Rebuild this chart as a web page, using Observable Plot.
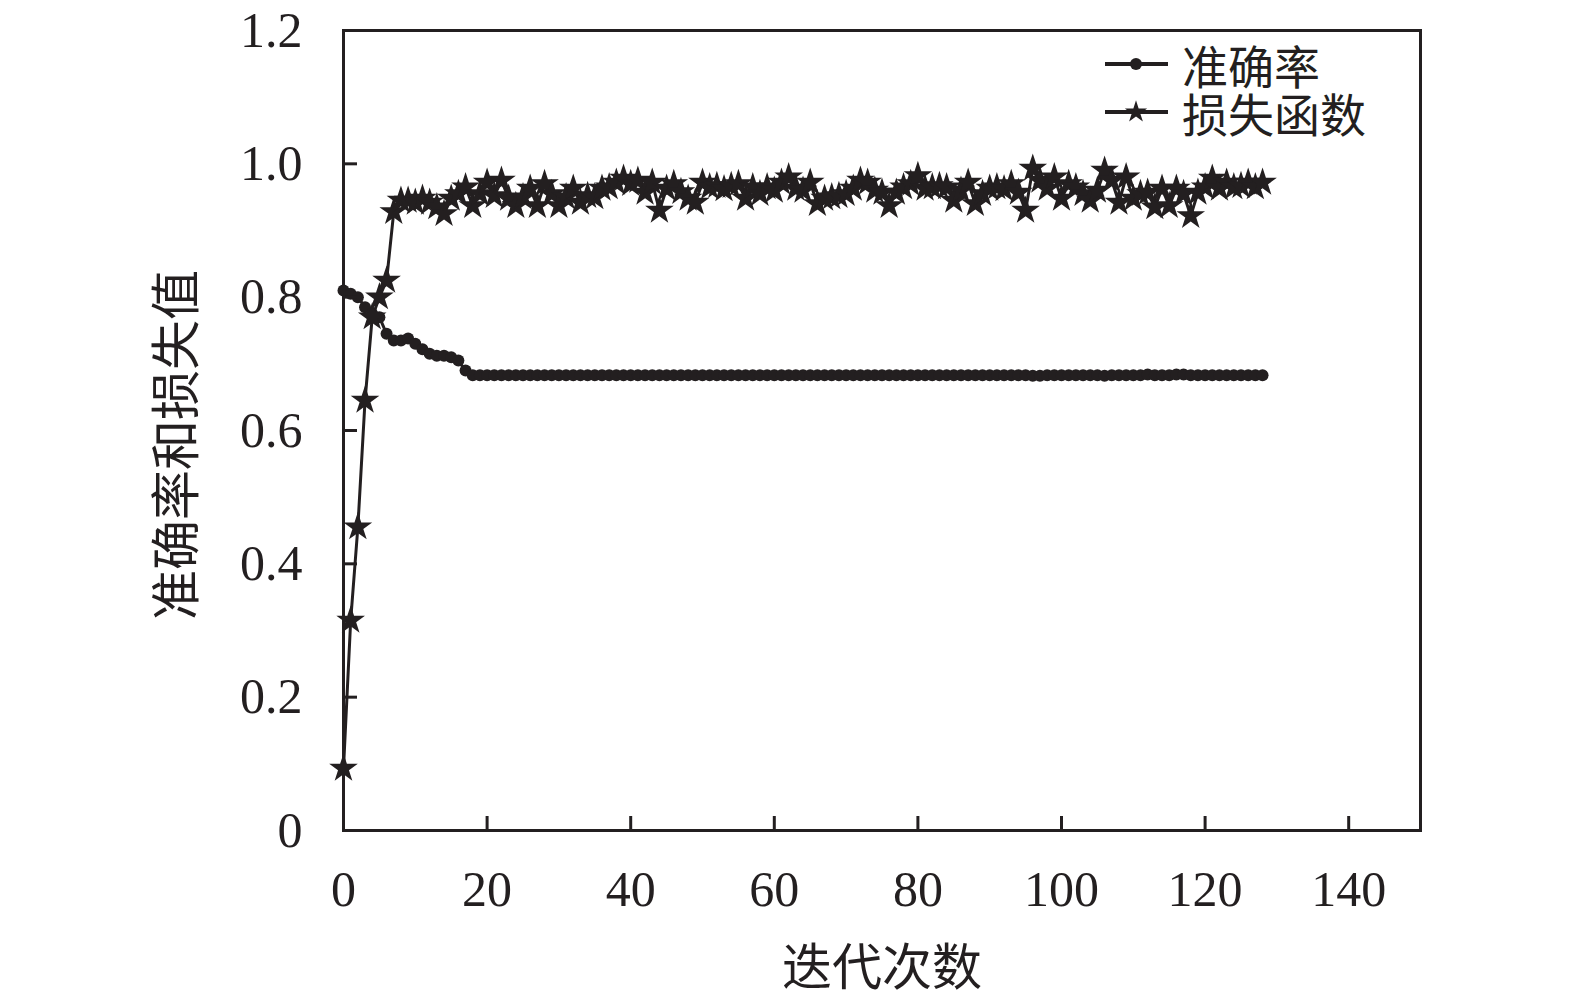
<!DOCTYPE html>
<html><head><meta charset="utf-8">
<script src="https://cdn.jsdelivr.net/npm/d3@7"></script>
<script src="https://cdn.jsdelivr.net/npm/@observablehq/plot@0.6"></script>
<style>
html,body{margin:0;padding:0;background:#fff;overflow:hidden;}
#wrap{position:relative;width:1575px;height:1000px;overflow:hidden;}
#wrap > svg{max-width:none !important;display:block;}
.lbl{position:absolute;font-family:"Noto Sans CJK SC",sans-serif;font-size:50px;color:#231f20;white-space:nowrap;line-height:1;}
.leg{font-size:46px;line-height:48px;white-space:pre;}
</style></head><body><div id="wrap"></div>
<script>
const ink = "#231f20";
const xLabel = "迭代次数";
const yLabel = "准确率和损失值";
const seriesNames = ["准确率", "损失函数"];
const xTicks = [0, 20, 40, 60, 80, 100, 120, 140];
const yTicks = [0, 0.2, 0.4, 0.6, 0.8, 1.0, 1.2];
const yTickLabels = ["0", "0.2", "0.4", "0.6", "0.8", "1.0", "1.2"];

// 准确率 (circle markers), iterations 0..128
const accuracy = [
  0.810, 0.805, 0.800, 0.785, 0.775, 0.770, 0.745, 0.735, 0.735, 0.738,
  0.730, 0.722, 0.715, 0.712, 0.712, 0.710, 0.705, 0.690, 0.683, 0.683,
  0.683, 0.683, 0.683, 0.683, 0.683, 0.683, 0.683, 0.683, 0.683, 0.683,
  0.683, 0.683, 0.683, 0.683, 0.683, 0.683, 0.683, 0.683, 0.683, 0.683,
  0.683, 0.683, 0.683, 0.683, 0.683, 0.683, 0.683, 0.683, 0.683, 0.683,
  0.683, 0.683, 0.683, 0.683, 0.683, 0.683, 0.683, 0.683, 0.683, 0.683,
  0.683, 0.683, 0.683, 0.683, 0.683, 0.683, 0.683, 0.683, 0.683, 0.683,
  0.683, 0.683, 0.683, 0.683, 0.683, 0.683, 0.683, 0.683, 0.683, 0.683,
  0.683, 0.683, 0.683, 0.683, 0.683, 0.683, 0.683, 0.683, 0.683, 0.683,
  0.683, 0.683, 0.683, 0.683, 0.683, 0.683, 0.682, 0.682, 0.683, 0.683,
  0.683, 0.683, 0.683, 0.683, 0.683, 0.683, 0.682, 0.683, 0.683, 0.683,
  0.683, 0.683, 0.684, 0.683, 0.683, 0.683, 0.684, 0.684, 0.683, 0.683,
  0.683, 0.683, 0.683, 0.683, 0.683, 0.683, 0.683, 0.683, 0.683
];

// 损失函数 (star markers), iterations 0..128
const loss = [
  0.093, 0.315, 0.455, 0.645, 0.770, 0.800, 0.825, 0.928, 0.945, 0.945,
  0.942, 0.948, 0.942, 0.935, 0.925, 0.948, 0.955, 0.965, 0.937, 0.955,
  0.972, 0.952, 0.975, 0.948, 0.937, 0.950, 0.963, 0.937, 0.970, 0.955,
  0.937, 0.950, 0.963, 0.942, 0.952, 0.950, 0.963, 0.965, 0.972, 0.978,
  0.970, 0.975, 0.957, 0.972, 0.930, 0.963, 0.970, 0.958, 0.948, 0.942,
  0.972, 0.965, 0.967, 0.962, 0.967, 0.970, 0.948, 0.965, 0.955, 0.965,
  0.960, 0.972, 0.980, 0.963, 0.960, 0.972, 0.940, 0.948, 0.950, 0.952,
  0.955, 0.963, 0.975, 0.972, 0.960, 0.957, 0.937, 0.957, 0.965, 0.970,
  0.982, 0.963, 0.965, 0.967, 0.965, 0.945, 0.960, 0.972, 0.940, 0.955,
  0.963, 0.965, 0.962, 0.970, 0.957, 0.930, 0.993, 0.975, 0.963, 0.980,
  0.948, 0.970, 0.965, 0.955, 0.945, 0.960, 0.990, 0.975, 0.942, 0.980,
  0.948, 0.955, 0.957, 0.935, 0.963, 0.937, 0.963, 0.955, 0.922, 0.957,
  0.965, 0.978, 0.963, 0.972, 0.965, 0.967, 0.972, 0.965, 0.972
];

const accData = accuracy.map((v, i) => ({x: i, y: v}));
const lossData = loss.map((v, i) => ({x: i, y: v}));

const chart = Plot.plot({
  width: 1575, height: 1000,
  marginLeft: 343, marginRight: 155, marginTop: 30, marginBottom: 170,
  style: {fontFamily: '"Liberation Serif", "Times New Roman", serif', fontSize: "50px", color: ink, background: "transparent", maxWidth: "none"},
  x: {domain: [0, 150], label: null},
  y: {domain: [0, 1.2], label: null},
  marks: [
    Plot.line(accData, {x: "x", y: "y", stroke: ink, strokeWidth: 3}),
    Plot.dot(accData, {x: "x", y: "y", r: 6, fill: ink, symbol: "circle"}),
    Plot.line(lossData, {x: "x", y: "y", stroke: ink, strokeWidth: 3}),
    Plot.dot(lossData, {x: "x", y: "y", r: 9, fill: ink, symbol: "star"}),
    Plot.tickX(xTicks, {x: d => d, insetTop: 786, stroke: ink, strokeWidth: 3}),
    Plot.tickY(yTicks, {y: d => d, insetRight: 1063, stroke: ink, strokeWidth: 3}),
    Plot.axisX(xTicks, {tickSize: 0, tickPadding: 40, tickFormat: d => String(d), fontSize: 50, fill: ink}),
    Plot.axisY(yTicks, {tickSize: 0, tickPadding: 41, tickFormat: d => yTickLabels[yTicks.indexOf(d)], fontSize: 50, fill: ink}),
    Plot.frame({stroke: ink, strokeWidth: 3})
  ]
});
const wrap = document.getElementById("wrap");
wrap.appendChild(chart);

// axis titles
const yl = document.createElement("div");
yl.className = "lbl";
yl.textContent = yLabel;
yl.style.left = "172px"; yl.style.top = "445px";
yl.style.transform = "translate(-50%,-50%) rotate(-90deg)";
wrap.appendChild(yl);
const xl = document.createElement("div");
xl.className = "lbl";
xl.textContent = xLabel;
xl.style.left = "882px"; xl.style.top = "963px";
xl.style.transform = "translate(-50%,-50%)";
wrap.appendChild(xl);

// legend
const symbols = [d3.symbolCircle, d3.symbolStar];
const symSizes = [Math.PI * 36, Math.PI * 49];
const legendY = [64, 112];
seriesNames.forEach((name, i) => {
  const svg = d3.select(wrap).append("svg")
    .attr("width", 70).attr("height", 30)
    .style("position", "absolute").style("left", "1102px").style("top", (legendY[i] - 15) + "px");
  svg.append("line").attr("x1", 3).attr("x2", 66).attr("y1", 15).attr("y2", 15)
    .attr("stroke", ink).attr("stroke-width", 4);
  svg.append("path").attr("transform", "translate(34,15)")
    .attr("d", d3.symbol(symbols[i], symSizes[i])()).attr("fill", ink);
});
const t = document.createElement("div");
t.className = "lbl leg";
t.textContent = seriesNames.join("\n");
t.style.left = "1182px"; t.style.top = (legendY[0] - 24) + "px";
wrap.appendChild(t);
</script>
</body></html>
